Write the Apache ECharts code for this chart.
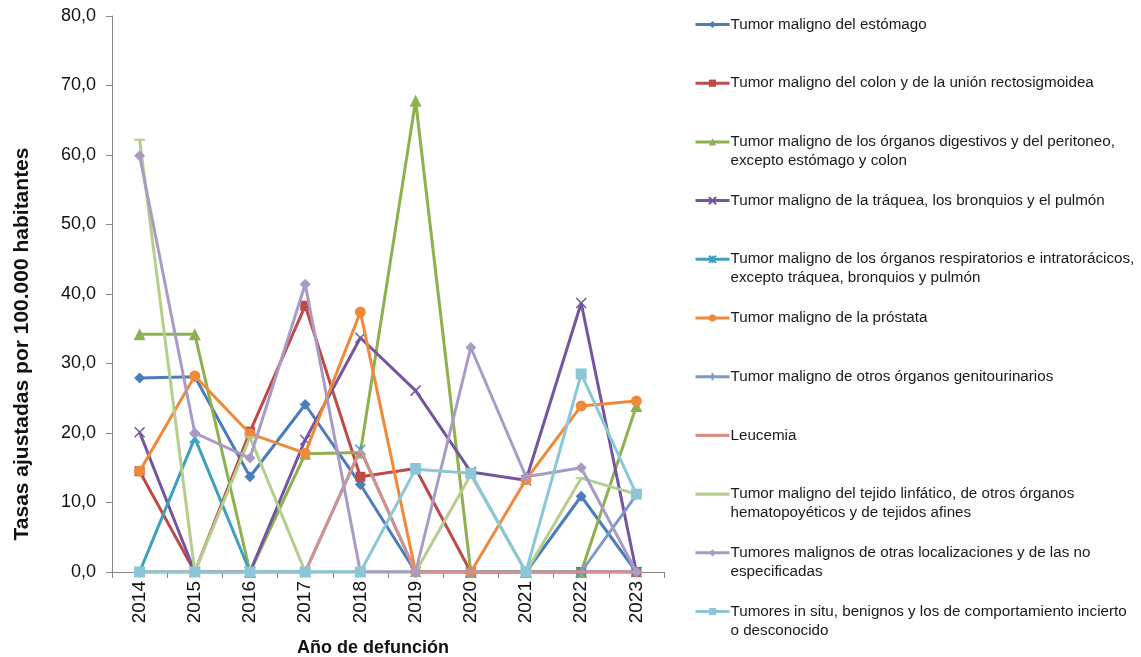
<!DOCTYPE html>
<html>
<head>
<meta charset="utf-8">
<script src="https://cdn.jsdelivr.net/npm/echarts@6/dist/echarts.min.js"></script>
<style>
html,body{margin:0;padding:0;background:#fff;}
#chart{width:1141px;height:657px;}
</style>
</head>
<body>
<div id="chart"></div>
<script>
const years = ['2014','2015','2016','2017','2018','2019','2020','2021','2022','2023'];
const yTicks = [0,10,20,30,40,50,60,70,80];

const estomago      = [27.9, 28.1, 13.7, 24.1, 12.6, 0, 0, 0, 10.9, 0];
const colon         = [14.5, 0, 20.2, 38.3, 13.7, 14.9, 0, 0, 0, 0];
const digestivos    = [34.2, 34.2, 0, 17.0, 17.2, 67.8, 0, 0, 0, 23.9];
const traquea       = [20.1, 0, 0, 19.0, 33.7, 26.1, 14.4, 13.2, 38.7, 0];
const respiratorios = [0, 19.3, 0, 0, 17.6, 0, 0, 0, 0, 0];
const prostata      = [14.5, 28.2, 19.9, 17.1, 37.4, 0, 0, 13.3, 23.9, 24.6];
const genitourin    = [0, 0, 0, 0, 0, 0, 0, 0, 0, 11.1];
const leucemia      = [0, 0, 0, 0, 17.6, 0, 0, 0, 0, 0];
const linfatico     = [62.2, 0, 19.4, 0, 0, 0, 14.0, 0, 13.5, 11.2];
const otras         = [59.9, 20.0, 16.4, 41.4, 0, 0, 32.3, 13.7, 15.0, 0];
const insitu        = [0, 0, 0, 0, 0, 14.8, 14.2, 0, 28.5, 11.2];

const names = [
  'Tumor maligno del estómago',
  'Tumor maligno del colon y de la unión rectosigmoidea',
  'Tumor maligno de los órganos digestivos y del peritoneo, excepto estómago y colon',
  'Tumor maligno de la tráquea, los bronquios y el pulmón',
  'Tumor maligno de los órganos respiratorios e intratorácicos, excepto tráquea, bronquios y pulmón',
  'Tumor maligno de la próstata',
  'Tumor maligno de otros órganos genitourinarios',
  'Leucemia',
  'Tumor maligno del tejido linfático, de otros órganos hematopoyéticos y de tejidos afines',
  'Tumores malignos de otras localizaciones y de las no especificadas',
  'Tumores in situ, benignos y los de comportamiento incierto o desconocido'
];
const legendLines = [
  ['Tumor maligno del estómago'],
  ['Tumor maligno del colon y de la unión rectosigmoidea'],
  ['Tumor maligno de los órganos digestivos y del peritoneo,', 'excepto estómago y colon'],
  ['Tumor maligno de la tráquea, los bronquios y el pulmón'],
  ['Tumor maligno de los órganos respiratorios e intratorácicos,', 'excepto tráquea, bronquios y pulmón'],
  ['Tumor maligno de la próstata'],
  ['Tumor maligno de otros órganos genitourinarios'],
  ['Leucemia'],
  ['Tumor maligno del tejido linfático, de otros órganos', 'hematopoyéticos y de tejidos afines'],
  ['Tumores malignos de otras localizaciones y de las no', 'especificadas'],
  ['Tumores in situ, benignos y los de comportamiento incierto', 'o desconocido']
];
const dataSets = [estomago, colon, digestivos, traquea, respiratorios, prostata, genitourin, leucemia, linfatico, otras, insitu];

const colors = ['#4A7EBB','#BE4B48','#8EB04E','#7455A0','#3FA0BE','#F0893A','#7E9BC8','#D8908E','#B5CE8E','#A99BC6','#8CC7D8'];
const symbols = [
  'diamond', 'rect', 'triangle',
  'path://M0,0L10,10M10,0L0,10',
  'path://M0,0L10,10M10,0L0,10M5,0L5,10',
  'circle',
  'path://M5,0L5,10M0,5L10,5',
  'none',
  'rect',
  'diamond',
  'rect'
];
const sizes = [11, 10, 12, 10, 10, 11, 10, 0, [11,2], 11, 11];
const strokeSym = [false,false,false,true,true,false,true,false,false,false,false];
const plainLineIcon = 'path://M0,0H100V9H0Z';

const font = "'Liberation Sans', Arial, sans-serif";

const series = dataSets.map((d, i) => ({
  name: names[i],
  type: 'line',
  data: d,
  symbol: symbols[i],
  symbolSize: sizes[i],
  showSymbol: symbols[i] !== 'none',
  lineStyle: { color: colors[i], width: 3 },
  itemStyle: strokeSym[i]
    ? { color: colors[i], borderColor: colors[i], borderWidth: 1.5 }
    : { color: colors[i], borderWidth: 0 },
  emphasis: { disabled: true },
  z: 2 + i
}));

const legendData = names.map((n, i) => (i === 7 || i === 8) ? { name: n, icon: plainLineIcon } : { name: n });

const chart = echarts.init(document.getElementById('chart'), null, { renderer: 'canvas' });
chart.setOption({
  animation: false,
  backgroundColor: '#ffffff',
  grid: { left: 112, right: 477, top: 16, bottom: 85, containLabel: false, outerBoundsMode: 'none' },
  legend: {
    orient: 'vertical',
    left: 694,
    top: -4,
    padding: 0,
    itemGap: 1.7,
    itemWidth: 34,
    itemHeight: 9,
    selectedMode: false,
    data: legendData,
    lineStyle: { width: 3 },
    formatter: function (name) {
      const idx = names.indexOf(name);
      const ls = legendLines[idx];
      return '\u00a0\n' + ls[0] + '\n' + (ls[1] || '\u00a0');
    },
    textStyle: { fontFamily: font, fontSize: 15.2, color: '#1a1a1a', lineHeight: 19, padding: [0,0,0,-4] }
  },
  xAxis: {
    type: 'category',
    data: years,
    boundaryGap: true,
    axisLine: { lineStyle: { color: '#868686', width: 1 } },
    axisTick: { show: true, alignWithLabel: false, length: 6, lineStyle: { color: '#868686' } },
    axisLabel: { rotate: 90, fontFamily: font, fontSize: 19, color: '#111', margin: 9 },
    splitLine: { show: false }
  },
  yAxis: {
    type: 'value',
    min: yTicks[0],
    max: yTicks[yTicks.length - 1],
    interval: 10,
    axisLine: { show: true, lineStyle: { color: '#868686', width: 1 } },
    axisTick: { show: true, length: 6, lineStyle: { color: '#868686' } },
    axisLabel: {
      fontFamily: font, fontSize: 18, color: '#111', margin: 16,
      formatter: v => v.toFixed(1).replace('.', ',')
    },
    splitLine: { show: false }
  },
  graphic: [
    {
      type: 'text',
      x: 22, y: 344,
      rotation: Math.PI / 2,
      style: {
        text: 'Tasas ajustadas por 100.000 habitantes',
        fontFamily: font, fontSize: 21, fontWeight: 'bold', fill: '#111',
        align: 'center', verticalAlign: 'middle'
      }
    },
    {
      type: 'text',
      x: 373, y: 648,
      style: {
        text: 'Año de defunción',
        fontFamily: font, fontSize: 18, fontWeight: 'bold', fill: '#111',
        align: 'center', verticalAlign: 'middle'
      }
    }
  ],
  series: series
});
</script>
</body>
</html>
